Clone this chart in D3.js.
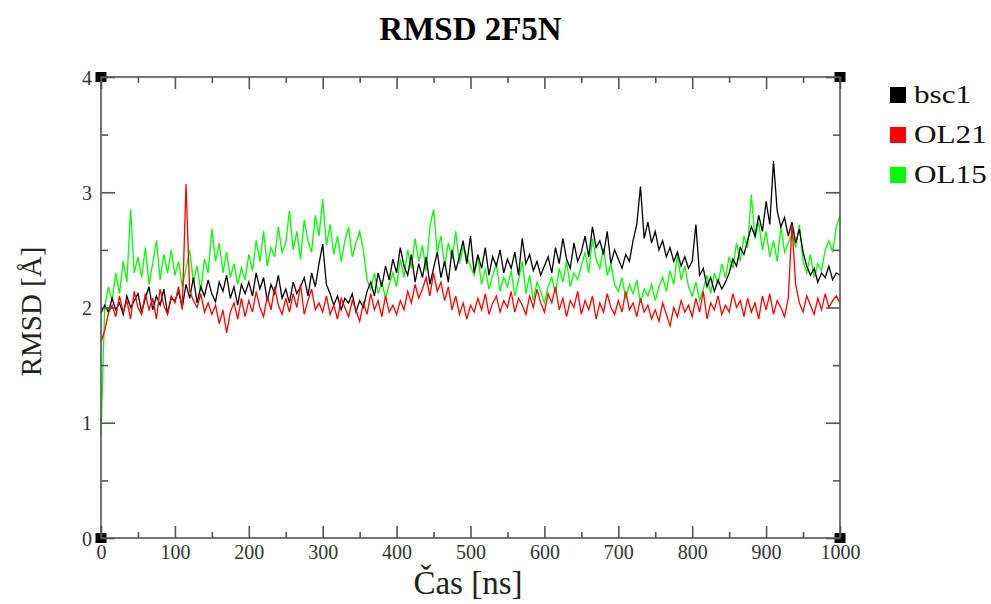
<!DOCTYPE html>
<html><head><meta charset="utf-8">
<script src="https://cdn.jsdelivr.net/npm/d3@7"></script>
<style>body{margin:0;background:#fff}svg{display:block}</style>
</head><body>
<svg id="c" width="991" height="604"></svg>
<script>
const seriesNames = ["bsc1", "OL21", "OL15"];
const seriesColors = ["#000000", "#ff0000", "#00ff00"];
const timeStep = 5; // ns
const bsc1 = [
1.95,2.02,1.96,2.08,1.98,2.04,1.94,2.10,2.00,2.06,
2.12,1.96,2.08,2.18,1.98,2.10,2.02,2.16,1.95,2.08,
2.06,2.14,2.00,2.20,2.08,2.26,2.04,2.18,2.10,2.24,
2.12,2.05,2.22,2.14,2.28,2.08,2.18,2.02,2.20,2.12,
2.22,2.10,2.30,2.16,2.26,2.06,2.20,2.12,2.28,2.08,
2.16,2.04,2.22,2.12,2.18,2.26,2.10,2.30,2.18,2.38,
2.55,2.20,2.12,2.02,2.10,1.98,2.08,2.04,2.12,1.96,
2.06,2.00,2.14,2.22,2.10,2.30,2.18,2.36,2.24,2.42,
2.30,2.52,2.36,2.28,2.46,2.22,2.38,2.26,2.44,2.20,
2.34,2.48,2.26,2.40,2.22,2.50,2.32,2.44,2.58,2.38,
2.62,2.30,2.46,2.34,2.52,2.28,2.44,2.36,2.50,2.30,
2.42,2.34,2.48,2.28,2.60,2.38,2.46,2.32,2.40,2.28,
2.36,2.44,2.30,2.52,2.38,2.60,2.42,2.34,2.56,2.40,
2.48,2.62,2.44,2.70,2.52,2.58,2.46,2.66,2.38,2.50,
2.42,2.34,2.46,2.40,2.58,2.72,3.05,2.60,2.74,2.56,
2.66,2.50,2.58,2.44,2.52,2.40,2.48,2.36,2.44,2.34,
2.40,2.72,2.28,2.34,2.18,2.26,2.14,2.24,2.16,2.22,
2.30,2.42,2.36,2.52,2.46,2.58,2.70,2.62,2.80,2.66,
2.92,2.72,3.27,2.84,2.70,2.78,2.62,2.74,2.56,2.68,
2.48,2.36,2.28,2.34,2.22,2.30,2.26,2.36,2.24,2.30,
2.28];
const ol21 = [
1.70,1.80,1.95,2.02,1.92,2.10,1.96,2.06,1.90,2.14,
2.00,1.94,2.12,1.98,2.08,1.90,2.16,2.02,1.94,2.10,
2.04,2.18,1.98,3.07,2.14,2.06,2.00,2.12,1.96,2.04,
1.94,2.02,1.86,1.98,1.78,1.96,2.04,1.90,2.08,1.92,
2.06,1.96,2.14,2.00,1.92,2.10,1.98,2.18,2.02,1.94,
2.08,1.96,2.12,2.00,2.20,1.94,2.06,2.16,1.98,2.04,
1.96,2.10,1.94,2.02,1.90,2.08,2.00,1.92,2.06,1.98,
1.88,2.04,1.94,2.12,1.98,2.06,1.92,2.10,1.96,2.02,
1.94,2.06,1.98,2.14,2.04,2.20,2.08,2.16,2.26,2.10,
2.30,2.14,2.22,2.06,2.18,1.98,2.10,1.94,2.04,1.90,
2.02,1.96,2.08,1.98,2.12,1.94,2.04,2.10,1.96,2.06,
2.00,2.14,1.96,2.08,2.02,1.94,2.10,2.00,2.16,2.04,
1.96,2.12,2.04,2.18,1.98,2.08,1.92,2.06,2.00,2.14,
1.94,2.06,1.98,2.10,1.90,2.04,1.96,2.12,2.00,1.94,
2.06,1.96,2.14,1.98,2.04,1.92,2.08,1.96,2.02,1.90,
1.98,1.88,2.04,1.94,1.84,2.00,1.92,2.06,1.96,2.02,
1.92,2.08,1.96,2.14,1.90,2.04,1.98,2.10,1.94,2.02,
1.96,2.12,2.00,2.06,1.92,2.08,1.96,2.04,1.90,2.10,
1.98,2.12,1.94,2.06,2.00,1.92,2.08,2.72,2.20,2.04,
1.96,2.10,2.02,1.94,2.08,1.98,2.12,2.00,2.06,2.10,
2.04];
const ol15 = [
0.90,2.00,2.18,2.06,2.30,2.12,2.40,2.22,2.85,2.30,
2.44,2.26,2.52,2.20,2.38,2.58,2.24,2.46,2.30,2.50,
2.28,2.40,2.18,2.34,2.50,2.22,2.36,2.14,2.42,2.30,
2.68,2.40,2.56,2.30,2.48,2.26,2.38,2.20,2.34,2.24,
2.46,2.32,2.58,2.40,2.66,2.36,2.52,2.44,2.70,2.48,
2.56,2.84,2.50,2.66,2.42,2.76,2.58,2.48,2.80,2.62,
2.94,2.54,2.72,2.46,2.62,2.40,2.58,2.70,2.44,2.56,
2.66,2.50,2.24,2.16,2.30,2.12,2.22,2.08,2.20,2.30,
2.18,2.42,2.26,2.50,2.34,2.60,2.40,2.54,2.32,2.70,
2.85,2.48,2.62,2.36,2.56,2.42,2.66,2.38,2.52,2.44,
2.36,2.28,2.44,2.20,2.34,2.16,2.28,2.38,2.14,2.26,
2.18,2.32,2.10,2.24,2.40,2.12,2.28,2.06,2.22,2.14,
2.04,2.18,2.26,2.12,2.34,2.22,2.40,2.18,2.30,2.24,
2.36,2.48,2.30,2.60,2.42,2.34,2.52,2.28,2.38,2.20,
2.14,2.26,2.08,2.20,2.12,2.24,2.04,2.16,2.10,2.20,
2.06,2.18,2.26,2.14,2.32,2.20,2.46,2.24,2.36,2.18,
2.10,2.22,2.06,2.16,2.28,2.12,2.30,2.20,2.38,2.26,
2.44,2.34,2.56,2.40,2.62,2.52,2.98,2.60,2.74,2.50,
2.66,2.44,2.58,2.40,2.70,2.48,2.56,2.64,2.52,2.72,
2.40,2.30,2.46,2.26,2.38,2.32,2.50,2.58,2.48,2.70,
2.80];
const xTicks = [0,100,200,300,400,500,600,700,800,900,1000];
const yTicks = [0,1,2,3,4];
const titleText = "RMSD 2F5N";
const xLabel = "Čas [ns]";
const yLabel = "RMSD [Å]";

const svg = d3.select("#c");
const L = 101, R = 840, T = 77, B = 538;
const x = d3.scaleLinear().domain([0,1000]).range([L,R]);
const y = d3.scaleLinear().domain([0,4]).range([B,T]);
const serif = "'Liberation Serif','Times New Roman',serif";
const axisCol = "#555";

// data lines (drawn: OL15, bsc1, OL21)
const all = [bsc1, ol21, ol15];
const line = d3.line().x((d,i)=>x(i*timeStep)).y(d=>y(d));
const plot = svg.append("g");
[2,0,1].forEach(k=>{
  plot.append("path").datum(all[k]).attr("d", line)
    .attr("fill","none").attr("stroke", seriesColors[k]).attr("stroke-width",1.3)
    .attr("stroke-linejoin","miter");
});

// corner squares
[[L,T],[R,T],[L,B],[R,B]].forEach(([cx,cy])=>{
  svg.append("rect").attr("x",cx-5.5).attr("y",cy-5).attr("width",11).attr("height",10).attr("fill","#000");
});

// frame
svg.append("rect").attr("x",L).attr("y",T).attr("width",R-L).attr("height",B-T)
  .attr("fill","none").attr("stroke",axisCol).attr("stroke-width",1.6);

// axes with inward ticks
const xMinor = d3.range(50,1000,100);
const yMinor = [0.5,1.5,2.5,3.5];
const gx = svg.append("g").attr("transform",`translate(0,${B})`)
  .call(d3.axisBottom(x).tickValues(xTicks).tickSize(-12).tickPadding(7).tickFormat(d3.format("d")));
const gxm = svg.append("g").attr("transform",`translate(0,${B})`)
  .call(d3.axisBottom(x).tickValues(xMinor).tickSize(-6).tickFormat(""));
const gxt = svg.append("g").attr("transform",`translate(0,${T})`)
  .call(d3.axisTop(x).tickValues(xTicks).tickSize(-12).tickFormat(""));
const gxtm = svg.append("g").attr("transform",`translate(0,${T})`)
  .call(d3.axisTop(x).tickValues(xMinor).tickSize(-6).tickFormat(""));
const gy = svg.append("g").attr("transform",`translate(${L},0)`)
  .call(d3.axisLeft(y).tickValues(yTicks).tickSize(-14).tickPadding(9).tickFormat(d3.format("d")));
const gym = svg.append("g").attr("transform",`translate(${L},0)`)
  .call(d3.axisLeft(y).tickValues(yMinor).tickSize(-7).tickFormat(""));
const gyr = svg.append("g").attr("transform",`translate(${R},0)`)
  .call(d3.axisRight(y).tickValues(yTicks).tickSize(-14).tickFormat(""));
const gyrm = svg.append("g").attr("transform",`translate(${R},0)`)
  .call(d3.axisRight(y).tickValues(yMinor).tickSize(-7).tickFormat(""));
[gx,gxm,gxt,gxtm,gy,gym,gyr,gyrm].forEach(g=>{
  g.select(".domain").remove();
  g.selectAll(".tick line").attr("stroke",axisCol).attr("stroke-width",1.6);
  g.selectAll(".tick text").attr("fill","#333").style("font-family",serif).style("font-size","20px");
});
gx.selectAll(".tick text").attr("dy","0.71em");
gy.selectAll(".tick text").attr("dy","0.36em");

// title and labels
svg.append("text").attr("x",(L+R)/2).attr("y",40).attr("text-anchor","middle")
  .style("font-family",serif).style("font-size","33px").style("font-weight","bold").text(titleText);
svg.append("text").attr("x",468).attr("y",594).attr("text-anchor","middle")
  .attr("fill","#222").style("font-family",serif).style("font-size","33px").text(xLabel);
svg.append("text").attr("transform",`translate(41,${(T+B)/2 + 4}) rotate(-90)`).attr("text-anchor","middle")
  .attr("fill","#222").style("font-family",serif).style("font-size","29px").text(yLabel);

// legend
const lg = svg.append("g");
seriesNames.forEach((n,i)=>{
  const cy = 95 + i*40;
  lg.append("rect").attr("x",890).attr("y",cy-8).attr("width",16).attr("height",16).attr("fill",seriesColors[i]);
  lg.append("text").attr("transform",`translate(914,${cy+8}) scale(1.2,1)`)
    .style("font-family",serif).style("font-size","26px").attr("fill","#111").text(n);
});
</script>
</body></html>
